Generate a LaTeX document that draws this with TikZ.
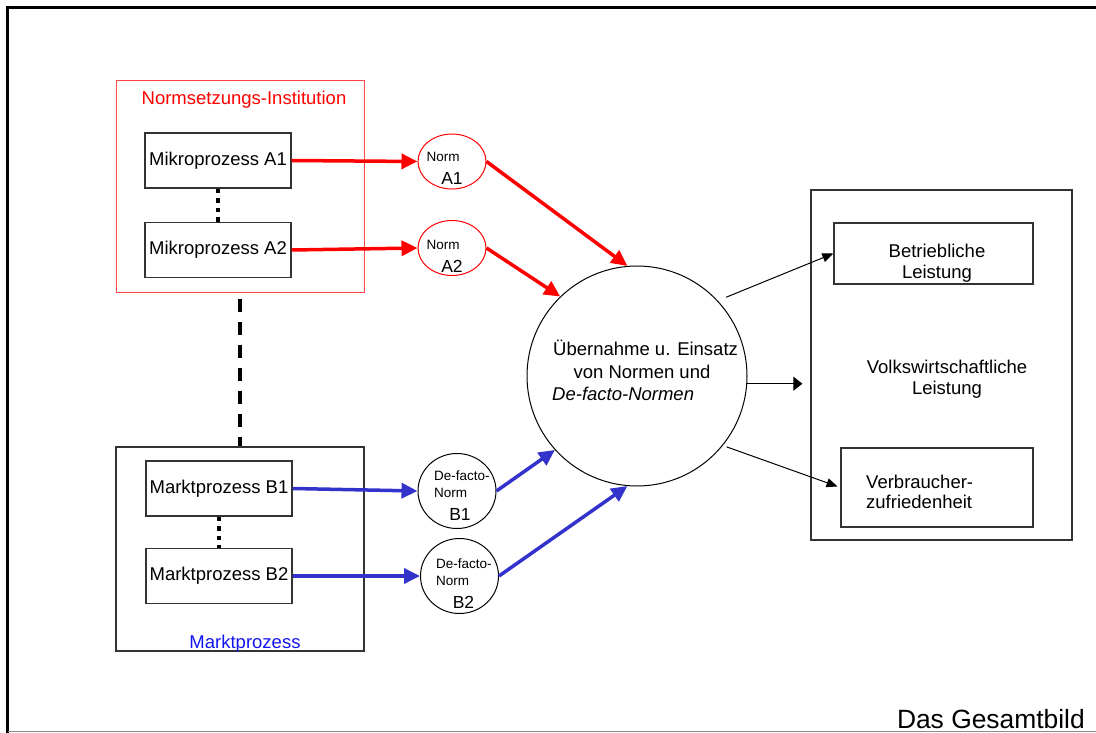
\documentclass[tikz,border=0pt]{standalone}
\usepackage{fontspec}
\setmainfont{Liberation Sans}
\usetikzlibrary{arrows.meta,shapes.geometric}
\definecolor{normred}{RGB}{255,0,0}
\definecolor{instred}{RGB}{255,70,70}
\definecolor{factoblue}{RGB}{51,51,204}
\definecolor{marktblue}{RGB}{20,20,240}
\newcommand{\mainsize}{\fontsize{18.5}{22}\selectfont}
\newcommand{\midsize}{\fontsize{17.5}{20}\selectfont}
\newcommand{\tinysize}{\fontsize{13.5}{15}\selectfont}
\tikzset{every picture/.style={x=1pt,y=-1pt}}
\tikzset{boxline/.style={draw=black!80,line width=1.3pt,inner sep=0pt}}
\tikzset{procbox/.style={boxline,minimum width=146pt,minimum height=55pt,font=\mainsize}}
\tikzset{normell/.style={ellipse,draw=normred,line width=1pt,minimum width=68pt,minimum height=55pt,inner sep=0pt}}
\tikzset{facto/.style={ellipse,draw,line width=1pt,minimum width=78pt,minimum height=75pt,inner sep=0pt}}
\tikzset{txt/.style={inner sep=0pt,font=\mainsize}}
\tikzset{midtxt/.style={inner sep=0pt,font=\midsize}}
\tikzset{tinytxt/.style={inner sep=0pt,font=\tinysize}}
\tikzset{redflow/.style={normred,line width=3.5pt,-{Triangle[length=16pt,width=15pt]}}}
\tikzset{blueflow/.style={factoblue,line width=3.5pt,-{Triangle[length=16pt,width=15pt]}}}
\tikzset{effect/.style={line width=1pt,-{Triangle[length=11pt,width=9pt]}}}
\tikzset{link/.style={line width=4.5pt,dash pattern=on 4.5pt off 5pt}}
\tikzset{bridge/.style={line width=4.5pt,dash pattern=on 13pt off 10pt}}

\begin{document}
\begin{tikzpicture}
\useasboundingbox (0,0) rectangle (1096,733);
\draw [line width=3.5pt] (7.5,733) -- (7.5,7.5) -- (1096,7.5);
\draw [black!45,line width=1.2pt] (7.5,731.5) -- (1096,731.5);

% Normsetzung
\node [draw=instred,line width=1pt,minimum width=248pt,minimum height=211pt,inner sep=0pt] (inst) at (240,186.5) {};
\node [txt,normred,anchor=base] (instlabel) at (244,105) {Normsetzungs-Institution};
\node [procbox] (a1) at (218,160.5) {Mikroprozess A1};
\node [procbox] (a2) at (218,250) {Mikroprozess A2};

% Markt
\node [boxline,minimum width=248pt,minimum height=204pt] (markt) at (240,549) {};
\node [txt,marktblue,anchor=base] (marktlabel) at (245,648) {Marktprozess};
\node [procbox] (b1) at (219,488.5) {Marktprozess B1};
\node [procbox] (b2) at (219,576) {Marktprozess B2};

% Normen
\node [normell] (na1) at (452,161.5) {};
\node [tinytxt,anchor=base] (na1top) at (443,162) {Norm};
\node [midtxt,anchor=base] (na1bot) at (452,184.5) {A1};
\node [normell] (na2) at (452,248) {};
\node [tinytxt,anchor=base] (na2top) at (443,250) {Norm};
\node [midtxt,anchor=base] (na2bot) at (452,272.5) {A2};

\node [facto] (fb1) at (457,491) {};
\node [tinytxt,anchor=base west] (fb1top) at (434,480) {De-facto-};
\node [tinytxt,anchor=base west] (fb1mid) at (434,497) {Norm};
\node [midtxt,anchor=base] (fb1bot) at (460,520) {B1};
\node [facto] (fb2) at (459.5,576) {};
\node [tinytxt,anchor=base west] (fb2top) at (436,568) {De-facto-};
\node [tinytxt,anchor=base west] (fb2mid) at (436,585) {Norm};
\node [midtxt,anchor=base] (fb2bot) at (463.5,608) {B2};

% Uebernahme
\node [circle,draw,line width=1pt,minimum size=220pt,inner sep=0pt] (core) at (637,376) {};
\node [txt,anchor=base west] (coreA) at (553,355) {Übernahme u. Einsatz};
\node [txt,anchor=base] (coreB) at (642,378) {von Normen und};
\node [txt,anchor=base west] (coreC) at (552,400) {\itshape De-facto-Normen};

% Leistung
\node [boxline,minimum width=261pt,minimum height=350pt] (volk) at (941.5,365) {};
\node [txt,anchor=base] (volkA) at (947,373) {Volkswirtschaftliche};
\node [txt,anchor=base] (volkB) at (947,394) {Leistung};
\node [boxline,minimum width=199pt,minimum height=61pt] (betr) at (933.5,253.5) {};
\node [txt,anchor=base] (betrA) at (937,257) {Betriebliche};
\node [txt,anchor=base] (betrB) at (937,278) {Leistung};
\node [boxline,minimum width=192pt,minimum height=79pt] (verb) at (937,487.5) {};
\node [txt,anchor=base west] (verbA) at (866,488) {Verbraucher-};
\node [txt,anchor=base west] (verbB) at (866,508) {zufriedenheit};

\node [inner sep=0pt,font=\fontsize{26.4}{30}\selectfont,anchor=base east] (title) at (1085,728) {Das Gesamtbild};

\draw [link] (a1.south) -- (a2.north);
\draw [link] (b1.south) -- (b2.north);
\draw [bridge,shorten <=6pt] (inst.south) -- (markt.north);

\draw [redflow] (a1.east) -- (na1.west);
\draw [redflow] (a2.east) -- (na2.west);
\draw [redflow] (na1.east) -- (core.95);
\draw [redflow] (na2.east) -- (core.134);
\draw [blueflow] (b1.east) -- (fb1.west);
\draw [blueflow] (b2.east) -- (fb2.west);
\draw [blueflow] (fb1.east) -- (core.222);
\draw [blueflow] (fb2.east) -- (core.265);

\draw [effect,shorten <=9pt] (core.43) -- (betr.west);
\draw [line width=1pt,-{Triangle[length=9pt,width=14pt]},shorten >=8pt] (core.356) -- (core.356 -| volk.west);
\draw [effect,shorten <=4pt,shorten >=3pt] (core.-39) -- (verb.west);
\end{tikzpicture}
\end{document}
